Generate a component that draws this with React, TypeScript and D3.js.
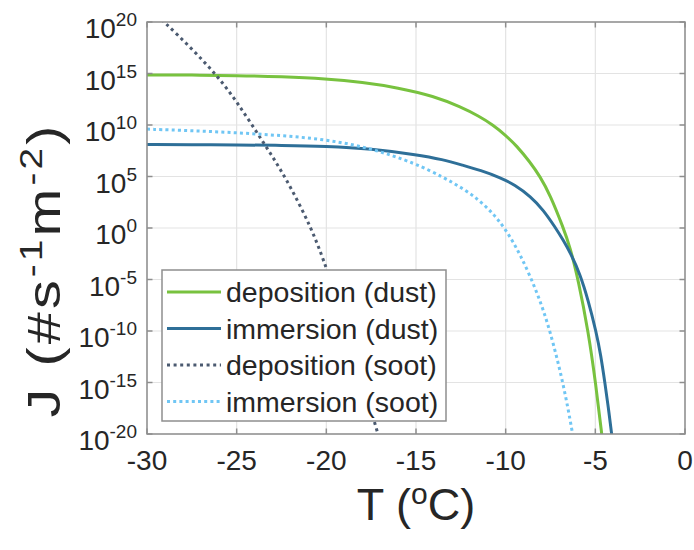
import React from "react";
import * as d3 from "d3";

// Nucleation rate J (log10 of #/s/m^2) against temperature (deg C)
const T_DEP_DUST = [-30, -27.5, -25, -22.5, -20, -18, -16, -14, -12.5, -11.5, -10.7, -10, -9.4, -8.64, -8.08, -7.53, -6.78, -6.41, -5.95, -5.39, -4.98, -4.64, -4.45];
const LOGJ_DEP_DUST = [14.86, 14.85, 14.8, 14.69, 14.48, 14.15, 13.62, 12.8, 11.75, 10.87, 10.0, 9.0, 8.0, 6.4, 5.0, 3.25, 0.0, -1.85, -5.05, -10.07, -15.1, -20, -23];

const T_IMM_DUST = [-30, -27.5, -25, -22.5, -20, -17.5, -15, -13.5, -12.4, -11.4, -10.3, -9.5, -8.6, -7.9, -7.25, -6.8, -6.35, -5.85, -5.4, -4.95, -4.7, -4.46, -4.27, -4.09, -3.95];
const LOGJ_IMM_DUST = [8.1, 8.09, 8.07, 8.02, 7.94, 7.7, 7.12, 6.65, 6.1, 5.6, 4.9, 4.2, 3.05, 1.75, 0.1, -1.15, -2.55, -4.5, -7.0, -10.1, -12.3, -15.1, -17.5, -20, -22];

const T_DEP_SOOT = [-30, -29.07, -27.5, -26.1, -25, -23.49, -22.29, -20.82, -19.98, -18.5, -17.19, -16.9];
const LOGJ_DEP_SOOT = [21.5, 20.07, 17.4, 14.82, 12.3, 8.25, 5.0, 0.0, -3.9, -11.75, -19.6, -21.3];

const T_IMM_SOOT = [-30, -27.5, -25, -22.5, -20, -17.5, -15, -13.5, -12.4, -11.5, -10.7, -10.05, -9.2, -8.2, -7.53, -6.78, -6.26, -6.1];
const LOGJ_IMM_SOOT = [9.6, 9.45, 9.25, 8.98, 8.6, 7.75, 6.25, 4.95, 3.85, 2.75, 1.4, 0.0, -2.46, -6.4, -9.9, -15.1, -20, -21.8];

const X_TICKS = [-30, -25, -20, -15, -10, -5, 0];
const Y_TICK_EXPONENTS = [20, 15, 10, 5, 0, -5, -10, -15, -20];

const SERIES_NAMES = ["deposition (dust)", "immersion (dust)", "deposition (soot)", "immersion (soot)"];

const W = 694;
const H = 550;
const M = { left: 147, right: 685, top: 22, bottom: 434 };
const FONT = "'Liberation Sans', Arial, Helvetica, sans-serif";
const TEXT = "#262626";

type Style = { color: string; dash?: string };
const STYLES: Style[] = [
  { color: "#78c23f" },
  { color: "#2e6f98" },
  { color: "#4b5a70", dash: "3 3.6" },
  { color: "#70c6f4", dash: "3 3.2" },
];

export default function App() {
  const x = d3.scaleLinear().domain([-30, 0]).range([M.left, M.right]);
  const y = d3.scaleLog().domain([1e-20, 1e20]).range([M.bottom, M.top]);

  const series = [
    { t: T_DEP_DUST, v: LOGJ_DEP_DUST },
    { t: T_IMM_DUST, v: LOGJ_IMM_DUST },
    { t: T_DEP_SOOT, v: LOGJ_DEP_SOOT },
    { t: T_IMM_SOOT, v: LOGJ_IMM_SOOT },
  ].map((s) => s.t.map((t, i) => ({ t, j: Math.pow(10, s.v[i]) })));

  const line = d3
    .line<{ t: number; j: number }>()
    .x((d) => x(d.t))
    .y((d) => y(d.j))
    .curve(d3.curveBasis);

  const tickLen = 5.5;
  const legend = { x0: 162, y0: 270, x1: 446, y1: 421 };
  const rowY = [292, 328.5, 365, 401.5];

  return (
    <svg
      width={W}
      height={H}
      style={{ position: "absolute", left: 0, top: 0, background: "#fff" }}
      fontFamily={FONT}
    >
      <defs>
        <clipPath id="plotClip">
          <rect x={M.left} y={M.top} width={M.right - M.left} height={M.bottom - M.top} />
        </clipPath>
      </defs>
      <rect x={0} y={0} width={W} height={H} fill="#fff" />

      {/* grid */}
      <g stroke="#e3e3e3" strokeWidth={1.2}>
        {X_TICKS.map((t) => (
          <line key={"gx" + t} x1={x(t)} x2={x(t)} y1={M.top} y2={M.bottom} />
        ))}
        {Y_TICK_EXPONENTS.map((e) => (
          <line key={"gy" + e} x1={M.left} x2={M.right} y1={y(Math.pow(10, e))} y2={y(Math.pow(10, e))} />
        ))}
      </g>

      {/* curves */}
      <g clipPath="url(#plotClip)" fill="none">
        {series.map((pts, i) => (
          <path
            key={i}
            d={line(pts) || ""}
            stroke={STYLES[i].color}
            strokeWidth={3}
            strokeDasharray={STYLES[i].dash}
          />
        ))}
      </g>

      {/* axes box and ticks */}
      <g stroke="#8e8e8e" strokeWidth={1.5} fill="none">
        <rect x={M.left} y={M.top} width={M.right - M.left} height={M.bottom - M.top} />
        {X_TICKS.map((t) => (
          <g key={"tx" + t}>
            <line x1={x(t)} x2={x(t)} y1={M.bottom} y2={M.bottom - tickLen} />
            <line x1={x(t)} x2={x(t)} y1={M.top} y2={M.top + tickLen} />
          </g>
        ))}
        {Y_TICK_EXPONENTS.map((e) => (
          <g key={"ty" + e}>
            <line x1={M.left} x2={M.left + tickLen} y1={y(Math.pow(10, e))} y2={y(Math.pow(10, e))} />
            <line x1={M.right} x2={M.right - tickLen} y1={y(Math.pow(10, e))} y2={y(Math.pow(10, e))} />
          </g>
        ))}
      </g>

      {/* x tick labels */}
      <g fill={TEXT} fontSize={28} textAnchor="middle">
        {X_TICKS.map((t) => (
          <text key={"lx" + t} x={x(t)} y={M.bottom + 36}>
            {t}
          </text>
        ))}
      </g>

      {/* y tick labels */}
      <g fill={TEXT} textAnchor="end">
        {Y_TICK_EXPONENTS.map((e) => (
          <text key={"ly" + e} x={137} y={y(Math.pow(10, e)) + 16} fontSize={28}>
            <tspan>10</tspan>
            <tspan dy={-12} fontSize={19}>
              {e}
            </tspan>
          </text>
        ))}
      </g>

      {/* axis labels */}
      <text x={(M.left + M.right) / 2} y={520} fill={TEXT} fontSize={45} textAnchor="middle">
        T (<tspan dy={-16} fontSize={30}>o</tspan>
        <tspan dy={16}>C)</tspan>
      </text>
      <text
        transform={`translate(60, 270) rotate(-90) scale(1.25, 1)`}
        fill={TEXT}
        fontSize={46}
        letterSpacing={2.5}
        textAnchor="middle"
      >
        J (#s<tspan dy={-18} fontSize={31}>-1</tspan>
        <tspan dy={18}>m</tspan>
        <tspan dy={-18} fontSize={31}>-2</tspan>
        <tspan dy={18}>)</tspan>
      </text>

      {/* legend */}
      <rect
        x={legend.x0}
        y={legend.y0}
        width={legend.x1 - legend.x0}
        height={legend.y1 - legend.y0}
        fill="#fff"
        stroke="#8e8e8e"
        strokeWidth={1.5}
      />
      {SERIES_NAMES.map((name, i) => (
        <g key={name}>
          <line
            x1={167}
            x2={221}
            y1={rowY[i]}
            y2={rowY[i]}
            stroke={STYLES[i].color}
            strokeWidth={3}
            strokeDasharray={STYLES[i].dash}
          />
          <text x={226} y={rowY[i] + 10} fontSize={28.5} fill={TEXT}>
            {name}
          </text>
        </g>
      ))}
    </svg>
  );
}
